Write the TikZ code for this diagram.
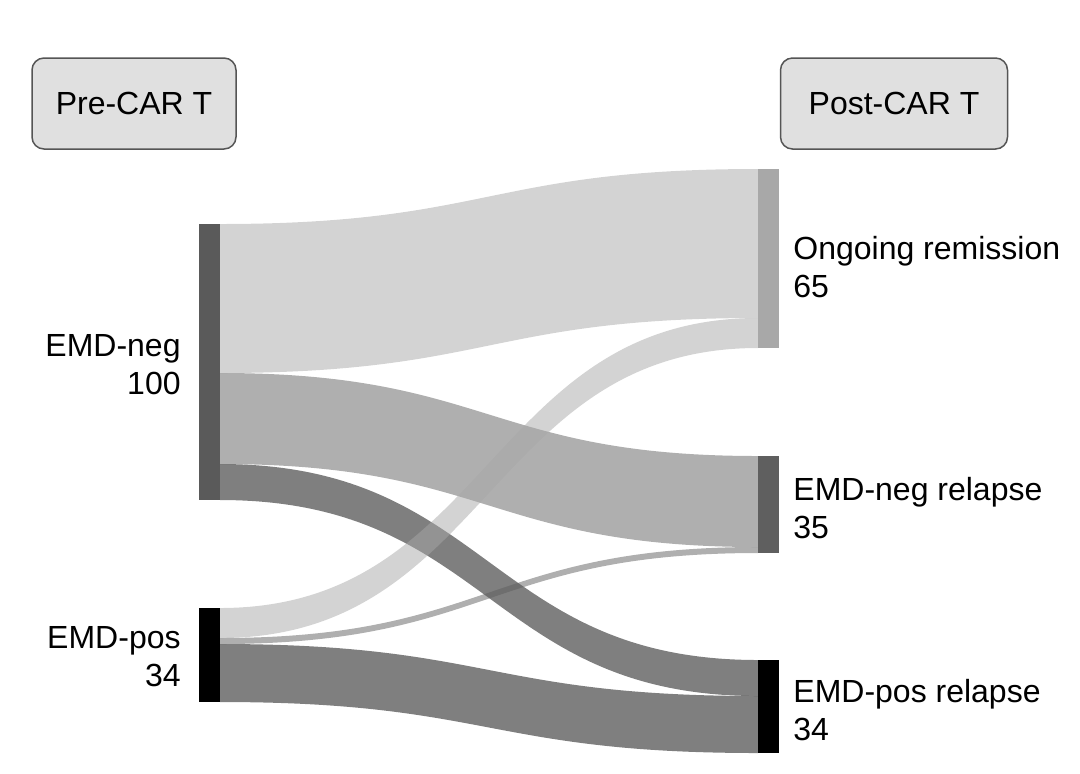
\documentclass[tikz,border=0pt]{standalone}
\usepackage{fontspec}
\setmainfont{Liberation Sans}
\usetikzlibrary{positioning}

\definecolor{boxfill}{HTML}{E0E0E0}
\definecolor{boxline}{HTML}{555555}
\definecolor{negbar}{HTML}{5A5A5A}
\definecolor{rembar}{HTML}{A8A8A8}
\definecolor{relbar}{HTML}{5F5F5F}

% band from left bar (x=220) to right bar (x=758)
\newcommand{\band}[5]{%
  \fill[#5, opacity=0.5] (220,#1) .. controls (489,#1) and (489,#3) .. (758,#3)
    -- (758,#4) .. controls (489,#4) and (489,#2) .. (220,#2) -- cycle;}

\begin{document}
\begin{tikzpicture}[x=0.5pt,y=-0.5pt]
\tikzset{
  hdr/.style={draw=boxline, fill=boxfill, line width=0.75pt, rounded corners=6pt,
    minimum height=45.5pt, font=\fontsize{16}{19}\selectfont},
  bar/.style={inner sep=0pt, minimum width=10.5pt, anchor=north west},
  lab/.style={inner sep=0pt, font=\fontsize{16}{19}\selectfont}
}
\useasboundingbox (0,0) rectangle (1080,773);

% headers
\node[hdr, minimum width=102pt] (pre) at (134,103.5) {Pre-CAR T};
\node[hdr, minimum width=113.5pt] (post) at (894,103.5) {Post-CAR T};

% flows
\band{224}{373}{169}{318}{rembar}
\band{373}{464}{456}{547}{relbar}
\band{464}{500}{660}{696}{black}
\band{608}{638}{318}{348}{rembar}
\band{638}{644}{547}{553}{relbar}
\band{644}{702}{696}{753}{black}

% bars
\node[bar, fill=negbar, minimum height=138pt] (neg) at (199,224) {};
\node[bar, fill=black, minimum height=47pt] (pos) at (199,608) {};
\node[bar, fill=rembar, minimum height=89.5pt] (rem) at (758,169) {};
\node[bar, fill=relbar, minimum height=48.5pt] (negrel) at (758,456) {};
\node[bar, fill=black, minimum height=46.5pt] (posrel) at (758,660) {};

% labels
\node[lab, align=right, anchor=east] (neglab) at (181,365) {EMD-neg\\100};
\node[lab, align=right, anchor=east] (poslab) at (181,657) {EMD-pos\\34};
\node[lab, align=left, anchor=west] (remlab) at (793,267) {Ongoing remission\\65};
\node[lab, align=left, anchor=west] (negrellab) at (793,508) {EMD-neg relapse\\35};
\node[lab, align=left, anchor=west] (posrellab) at (793,710) {EMD-pos relapse\\34};
\end{tikzpicture}
\end{document}
